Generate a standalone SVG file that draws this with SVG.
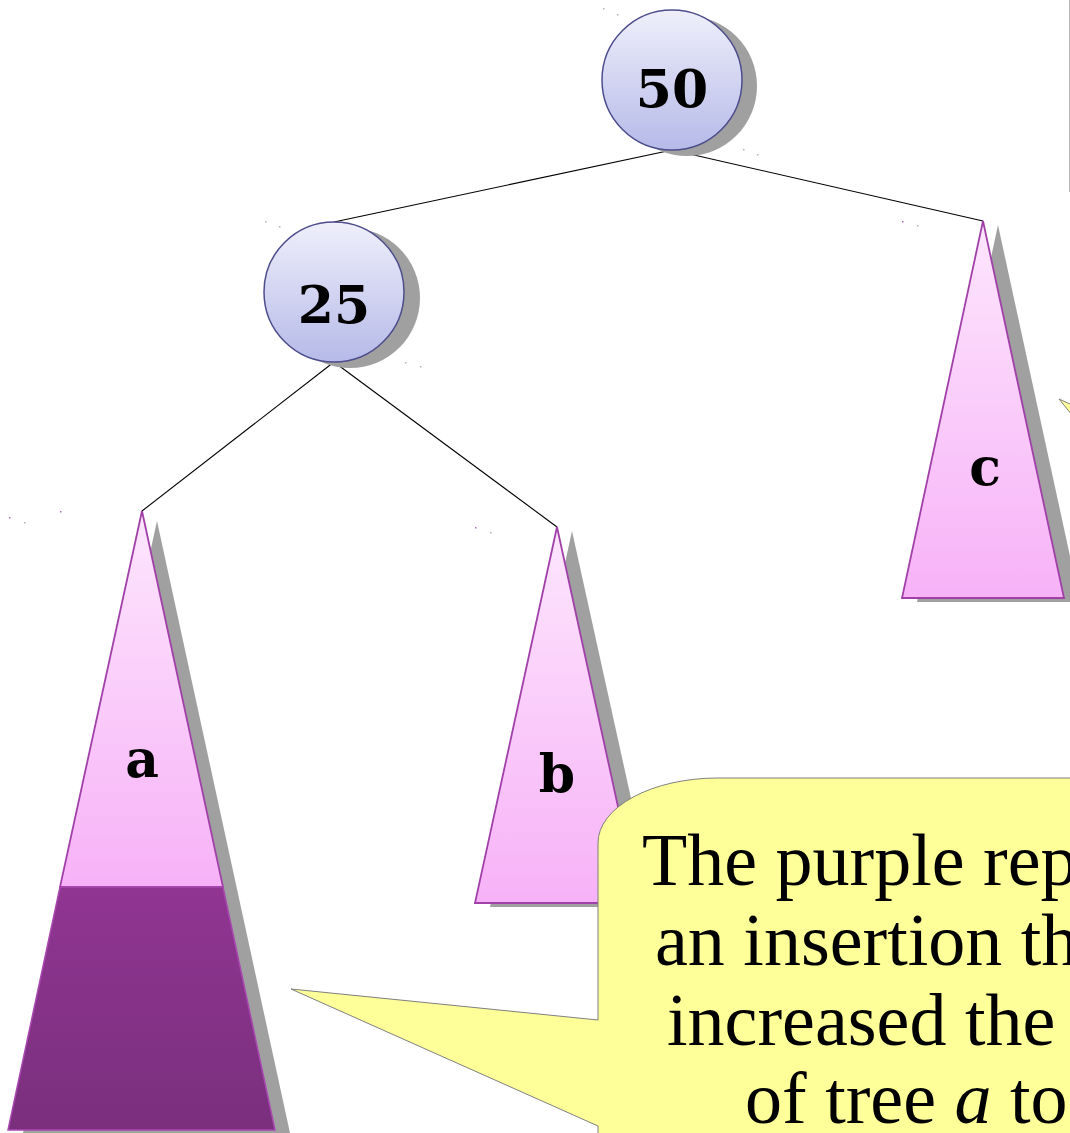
<svg xmlns="http://www.w3.org/2000/svg" width="1070" height="1133" viewBox="0 0 1070 1133">
<defs>
<linearGradient id="gCircle" x1="0" y1="0" x2="0" y2="1">
<stop offset="0" stop-color="#efeffb"/>
<stop offset="1" stop-color="#b6bae8"/>
</linearGradient>
<linearGradient id="gPink" x1="0" y1="0" x2="0" y2="1">
<stop offset="0" stop-color="#fde6fd"/>
<stop offset="1" stop-color="#f7b2f7"/>
</linearGradient>
<linearGradient id="gPurple" x1="0" y1="0" x2="0" y2="1">
<stop offset="0" stop-color="#903592"/>
<stop offset="1" stop-color="#7a2f7d"/>
</linearGradient>
<style>
.shadow{fill:#a0a0a0;stroke:none}
.circle{fill:url(#gCircle);stroke:#4d4d8c;stroke-width:1.5}
.tri{fill:url(#gPink);stroke:#a040a8;stroke-width:1.8;stroke-linejoin:miter}
.purple{fill:url(#gPurple);stroke:#a848b0;stroke-width:1.5}
.edge{stroke:#000;stroke-width:1.1;fill:none}
.lbl{font-family:"DejaVu Serif",serif;font-weight:bold;font-size:52px;fill:#000;text-anchor:middle}
.callout{fill:#ffff99;stroke:#7f7f7f;stroke-width:1}
.ctext{font-family:"Liberation Serif","Times New Roman",serif;font-size:74px;fill:#000}
.dot{fill:#b070c0}
.dotg{fill:#b0b0b0}
</style>
</defs>
<rect width="1070" height="1133" fill="#fff"/>
<line x1="1069.5" y1="0" x2="1069.5" y2="192" stroke="#b5b5b5" stroke-width="1"/>
<g id="connectors">
<line class="edge" x1="672" y1="150" x2="334" y2="222"/>
<line class="edge" x1="672" y1="150" x2="983" y2="221"/>
<line class="edge" x1="334" y1="362" x2="142" y2="511"/>
<line class="edge" x1="334" y1="362" x2="557" y2="527"/>
</g>
<g id="node-50">
<circle class="shadow" cx="687" cy="86" r="70"/>
<circle class="circle" cx="672" cy="80" r="70"/>
<text class="lbl" x="672" y="107">50</text>
</g>
<g id="node-25">
<circle class="shadow" cx="350" cy="298" r="70"/>
<circle class="circle" cx="334" cy="292" r="70"/>
<text class="lbl" x="334" y="323">25</text>
</g>
<g id="tree-c">
<polygon class="shadow" points="998,225 1080,602 917,602"/>
<polygon class="tri" points="983,221 1064,598 902,598"/>
<text class="lbl" x="985" y="485">c</text>
</g>
<g id="tree-b">
<polygon class="shadow" points="572,531 655,907 490,907"/>
<polygon class="tri" points="557,527 639,903 475,903"/>
<text class="lbl" x="557" y="792">b</text>
</g>
<g id="tree-a">
<polygon class="shadow" points="157,521 290,1133 23,1133"/>
<polygon class="tri" points="142,511 223,887 60,887"/>
<polygon class="purple" points="60,887 223,887 275,1130 8,1130"/>
<text class="lbl" x="142" y="777">a</text>
</g>
<g id="callout-c">
<polygon class="callout" points="1059,399 1072,405 1072,415"/>
</g>
<g id="callout-a">
<path class="callout" d="M 1075 778 L 718 778 A 120 65 0 0 0 598 843 L 598 1020 L 291 989 L 598 1126 L 598 1140 L 1075 1140 Z"/>
<text class="ctext" x="642" y="885">The purple rep</text>
<text class="ctext" x="655" y="965">an insertion th</text>
<text class="ctext" x="667" y="1045">increased the</text>
<text class="ctext" x="745" y="1123">of tree <tspan font-style="italic">a</tspan> to</text>
</g>
<g id="marks">
<rect class="dotg" x="603" y="8" width="1.5" height="1.5"/>
<rect class="dotg" x="617" y="14" width="1.5" height="1.5"/>
<rect class="dotg" x="743" y="149" width="1.5" height="1.5"/>
<rect class="dotg" x="757" y="154" width="1.5" height="1.5"/>
<rect class="dotg" x="265" y="221" width="1.5" height="1.5"/>
<rect class="dotg" x="279" y="226" width="1.5" height="1.5"/>
<rect class="dotg" x="405" y="362" width="1.5" height="1.5"/>
<rect class="dotg" x="420" y="366" width="1.5" height="1.5"/>
<rect class="dot" x="902" y="221" width="1.5" height="1.5"/>
<rect class="dotg" x="917" y="225" width="1.5" height="1.5"/>
<rect class="dot" x="9" y="517" width="1.5" height="1.5"/>
<rect class="dotg" x="24" y="522" width="1.5" height="1.5"/>
<rect class="dot" x="60" y="511" width="1.5" height="1.5"/>
<rect class="dot" x="475" y="527" width="1.5" height="1.5"/>
<rect class="dotg" x="490" y="532" width="1.5" height="1.5"/>
</g>
</svg>
